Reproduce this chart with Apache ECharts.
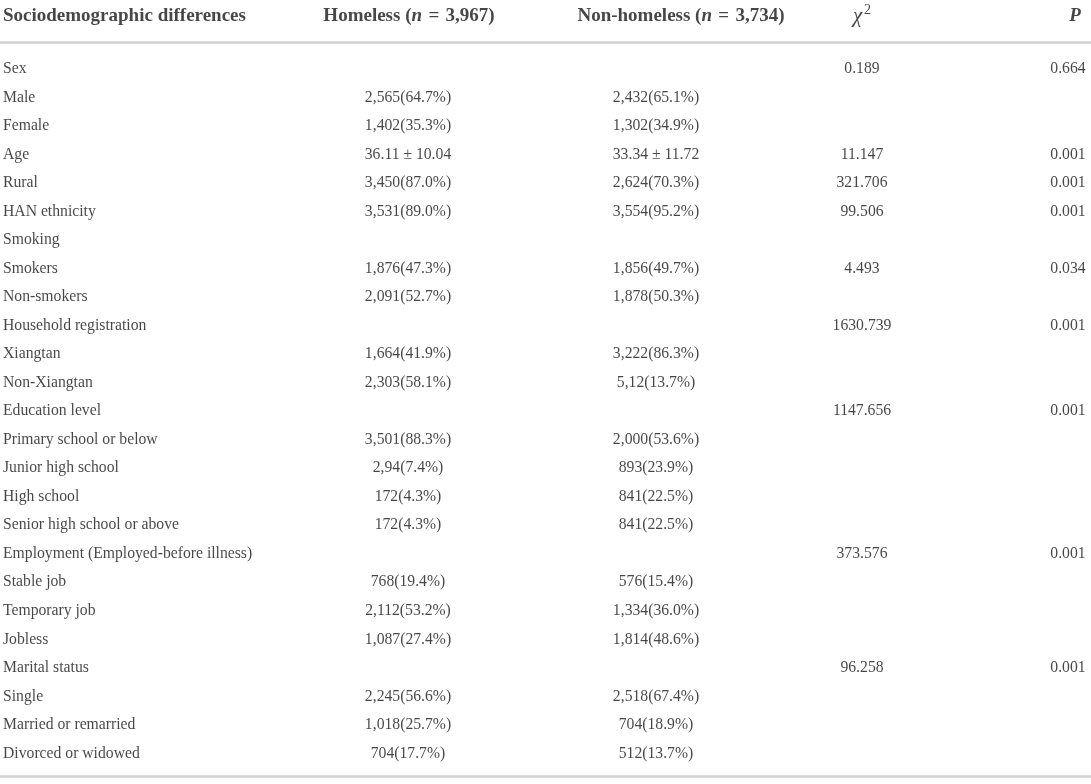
<!DOCTYPE html>
<head>
    <meta charset="utf-8">
    <title>ECharts</title>
    <style>
        html, body { margin: 0; padding: 0; background: #fff; }
    </style>
</head>
<body>
<div id="main" style="width:1091px;height:784px"></div>
<script src="https://cdn.jsdelivr.net/npm/echarts@6/dist/echarts.min.js"></script>
<script type="text/javascript">
// table content
var headers = ['Sociodemographic differences', 'Homeless (n = 3,967)', 'Non-homeless (n = 3,734)', 'χ2', 'P'];

var rowLabels = ['Sex', 'Male', 'Female', 'Age', 'Rural', 'HAN ethnicity', 'Smoking', 'Smokers', 'Non-smokers',
    'Household registration', 'Xiangtan', 'Non-Xiangtan', 'Education level', 'Primary school or below',
    'Junior high school', 'High school', 'Senior high school or above', 'Employment (Employed-before illness)',
    'Stable job', 'Temporary job', 'Jobless', 'Marital status', 'Single', 'Married or remarried', 'Divorced or widowed'];

var homeless = ['', '2,565(64.7%)', '1,402(35.3%)', '36.11 ± 10.04', '3,450(87.0%)', '3,531(89.0%)', '',
    '1,876(47.3%)', '2,091(52.7%)', '', '1,664(41.9%)', '2,303(58.1%)', '', '3,501(88.3%)', '2,94(7.4%)',
    '172(4.3%)', '172(4.3%)', '', '768(19.4%)', '2,112(53.2%)', '1,087(27.4%)', '', '2,245(56.6%)',
    '1,018(25.7%)', '704(17.7%)'];

var nonHomeless = ['', '2,432(65.1%)', '1,302(34.9%)', '33.34 ± 11.72', '2,624(70.3%)', '3,554(95.2%)', '',
    '1,856(49.7%)', '1,878(50.3%)', '', '3,222(86.3%)', '5,12(13.7%)', '', '2,000(53.6%)', '893(23.9%)',
    '841(22.5%)', '841(22.5%)', '', '576(15.4%)', '1,334(36.0%)', '1,814(48.6%)', '', '2,518(67.4%)',
    '704(18.9%)', '512(13.7%)'];

var chiSq = ['0.189', '', '', '11.147', '321.706', '99.506', '', '4.493', '', '1630.739', '', '', '1147.656',
    '', '', '', '', '373.576', '', '', '', '96.258', '', '', ''];

var pValues = ['0.664', '', '', '0.001', '0.001', '0.001', '', '0.034', '', '0.001', '', '', '0.001',
    '', '', '', '', '0.001', '', '', '', '0.001', '', '', ''];

// layout (x in px along the hidden value axis)
var colX = [3, 408, 656, 862, 1068];
var headX = [3, 409, 681, 862, 1075];
var headerRow = -1.85;
var textColor = '#1a1617';
var font = '"Liberation Serif", "DejaVu Serif", serif';

var myChart = echarts.init(document.getElementById('main'));

function cellData(values, x) {
    var out = [];
    for (var i = 0; i < values.length; i++) {
        if (values[i] !== '') out.push({value: [x, i], name: values[i]});
    }
    return out;
}

function headerRich(text, idx) {
    if (idx === 3) return '{gi|χ}{sup|2}';
    if (idx === 4) return '{bi|' + text + '}';
    var m = text.match(/^(.*\()n = (.*)$/);
    if (m) return '{b|' + m[1] + '}{bi|n}{b| \u200a= \u200a' + m[2] + '}';
    return '{b|' + text + '}';
}

function textSeries(name, data, align) {
    return {
        name: name,
        type: 'scatter',
        symbolSize: 1,
        silent: true,
        itemStyle: {color: 'rgba(0,0,0,0)'},
        data: data,
        label: {
            show: true,
            position: 'inside',
            align: align,
            verticalAlign: 'middle',
            fontFamily: font,
            fontSize: 15.7,
            color: textColor,
            formatter: function (p) { return p.name; }
        }
    };
}

var headerData = [];
for (var h = 0; h < headers.length; h++) {
    headerData.push({value: [headX[h], headerRow], name: headers[h],
        label: {align: h === 0 ? 'left' : 'center'}});
}

var rich = {
    b: {fontFamily: font, fontSize: 19, fontWeight: 'bold', color: textColor},
    bi: {fontFamily: font, fontSize: 19, fontWeight: 'bold', fontStyle: 'italic', color: textColor},
    gi: {fontFamily: font, fontSize: 21, fontStyle: 'italic', color: textColor},
    sup: {fontFamily: font, fontSize: 14, color: textColor, verticalAlign: 'top', padding: [0, 0, 12, 2]}
};

var option = {
    animation: false,
    backgroundColor: '#fff',
    grid: {left: 0, right: 0, top: 12, bottom: 2},
    xAxis: {type: 'value', min: 0, max: 1091, show: false},
    yAxis: {type: 'value', min: -2, max: 25, inverse: true, show: false},
    series: [
        {
            name: 'header',
            type: 'scatter',
            symbolSize: 1,
            silent: true,
            itemStyle: {color: 'rgba(0,0,0,0)'},
            data: headerData,
            label: {
                show: true,
                position: 'inside',
                verticalAlign: 'middle',
                formatter: function (p) { return headerRich(p.name, p.dataIndex); },
                rich: rich
            },
            markLine: {
                silent: true,
                symbol: 'none',
                label: {show: false},
                lineStyle: {color: '#d2d2d2', width: 2.5, type: 'solid'},
                data: [{yAxis: -0.95}, {yAxis: 24.8}]
            }
        },
        textSeries('label', cellData(rowLabels, colX[0]), 'left'),
        textSeries('homeless', cellData(homeless, colX[1]), 'center'),
        textSeries('nonHomeless', cellData(nonHomeless, colX[2]), 'center'),
        textSeries('chi2', cellData(chiSq, colX[3]), 'center'),
        textSeries('p', cellData(pValues, colX[4]), 'center')
    ]
};
myChart.setOption(option);
</script>
</body>
